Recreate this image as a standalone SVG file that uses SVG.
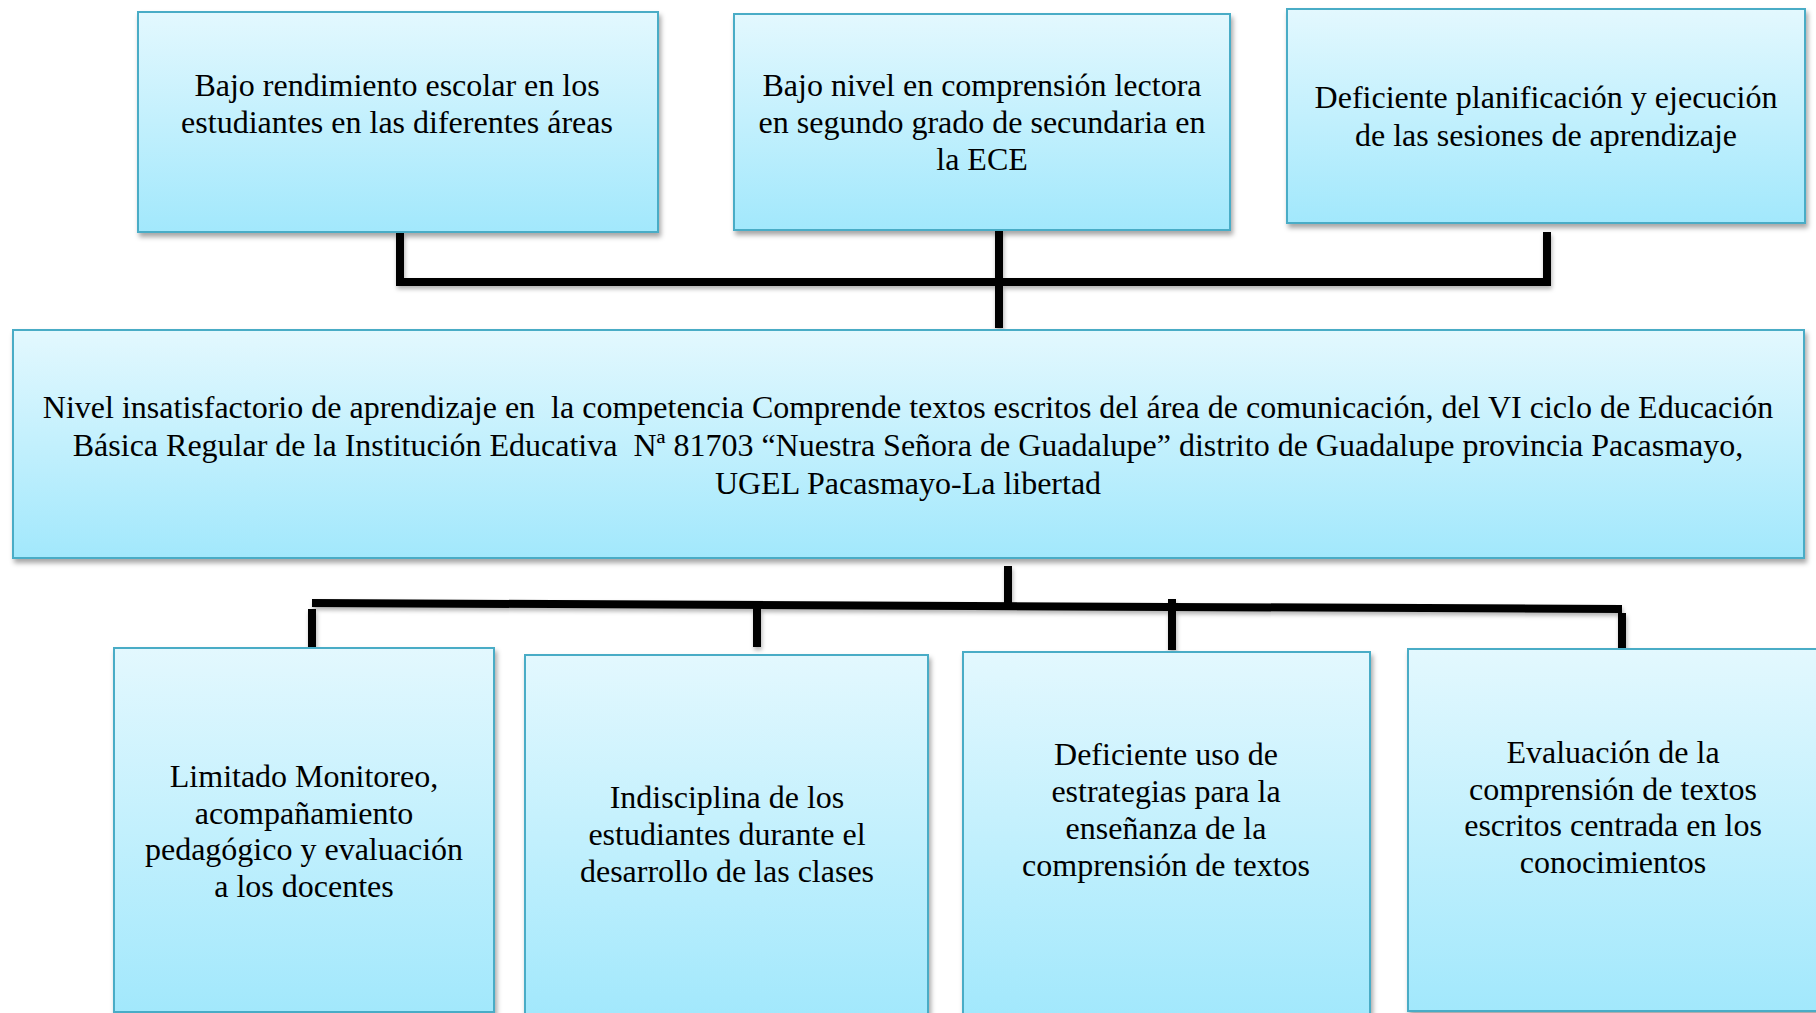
<svg xmlns="http://www.w3.org/2000/svg" width="1816" height="1013" viewBox="0 0 1816 1013">
<defs>
<linearGradient id="g" x1="0" y1="0" x2="0" y2="1">
<stop offset="0" stop-color="#e3f8fe"/>
<stop offset="1" stop-color="#a2e8fc"/>
</linearGradient>
<filter id="sh" x="-5%" y="-5%" width="115%" height="120%">
<feDropShadow dx="2" dy="4" stdDeviation="2.5" flood-color="#000" flood-opacity="0.35"/>
</filter>
<filter id="lsh" x="-5%" y="-50%" width="110%" height="200%">
<feDropShadow dx="1" dy="3" stdDeviation="2" flood-color="#000" flood-opacity="0.3"/>
</filter>
</defs>
<style>
.box{fill:url(#g);stroke:#4aacc6;stroke-width:2;filter:url(#sh)}
.t{font-family:"Liberation Serif","Times New Roman",serif;font-size:32px;fill:#000;text-anchor:middle}
.c{fill:none;stroke:#000;stroke-width:8;stroke-linejoin:miter;stroke-linecap:butt}
</style>
<rect width="1816" height="1013" fill="#fff"/>
<g id="connectors" filter="url(#lsh)">
<path class="c" d="M400,233 V282 H1547 V232"/>
<path class="c" d="M999,230 V328"/>
<path class="c" d="M1008,566 V603"/>
<path class="c" d="M312,603 L1622,609"/>
<path class="c" d="M312,609 V647"/>
<path class="c" d="M757,607 V647"/>
<path class="c" d="M1172,599 V650"/>
<path class="c" d="M1622,613 V651"/>
</g>
<g id="n1">
<rect class="box" x="138" y="12" width="520" height="220"/>
<text class="t" x="397" y="96">Bajo rendimiento escolar en los</text>
<text class="t" x="397" y="133">estudiantes en las diferentes áreas</text>
</g>
<g id="n2">
<rect class="box" x="734" y="14" width="496" height="216"/>
<text class="t" x="982" y="96">Bajo nivel en comprensión lectora</text>
<text class="t" x="982" y="133">en segundo grado de secundaria en</text>
<text class="t" x="982" y="170">la ECE</text>
</g>
<g id="n3">
<rect class="box" x="1287" y="9" width="518" height="214"/>
<text class="t" x="1546" y="108">Deficiente planificación y ejecución</text>
<text class="t" x="1546" y="146">de las sesiones de aprendizaje</text>
</g>
<g id="main">
<rect class="box" x="13" y="330" width="1791" height="228"/>
<text class="t" x="908" y="418" xml:space="preserve">Nivel insatisfactorio de aprendizaje en  la competencia Comprende textos escritos del área de comunicación, del VI ciclo de Educación</text>
<text class="t" x="908" y="456" xml:space="preserve">Básica Regular de la Institución Educativa  Nª 81703 “Nuestra Señora de Guadalupe” distrito de Guadalupe provincia Pacasmayo,</text>
<text class="t" x="908" y="494">UGEL Pacasmayo-La libertad</text>
</g>
<g id="n4">
<rect class="box" x="114" y="648" width="380" height="364"/>
<text class="t" x="304" y="787">Limitado Monitoreo,</text>
<text class="t" x="304" y="824">acompañamiento</text>
<text class="t" x="304" y="860">pedagógico y evaluación</text>
<text class="t" x="304" y="897">a los docentes</text>
</g>
<g id="n5">
<rect class="box" x="525" y="655" width="403" height="362"/>
<text class="t" x="727" y="808">Indisciplina de los</text>
<text class="t" x="727" y="845">estudiantes durante el</text>
<text class="t" x="727" y="882">desarrollo de las clases</text>
</g>
<g id="n6">
<rect class="box" x="963" y="652" width="407" height="365"/>
<text class="t" x="1166" y="765">Deficiente uso de</text>
<text class="t" x="1166" y="802">estrategias para la</text>
<text class="t" x="1166" y="839">enseñanza de la</text>
<text class="t" x="1166" y="876">comprensión de textos</text>
</g>
<g id="n7">
<rect class="box" x="1408" y="649" width="410" height="362"/>
<text class="t" x="1613" y="763">Evaluación de la</text>
<text class="t" x="1613" y="800">comprensión de textos</text>
<text class="t" x="1613" y="836">escritos centrada en los</text>
<text class="t" x="1613" y="873">conocimientos</text>
</g>
</svg>
